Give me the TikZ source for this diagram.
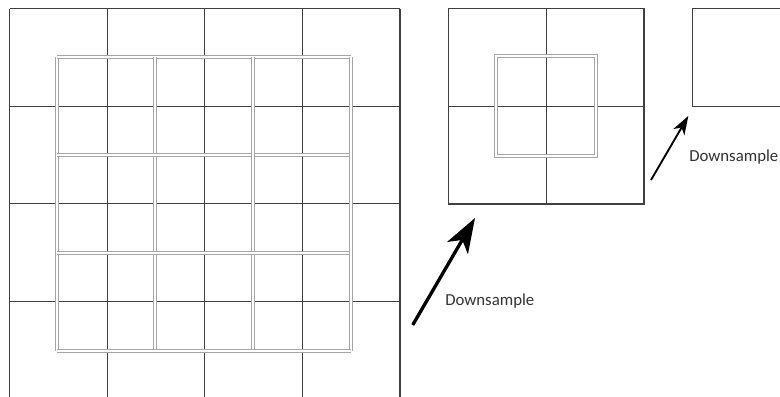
\documentclass[tikz,border=0pt]{standalone}
\usepackage{fontspec}
\setmainfont{Carlito}
\usetikzlibrary{arrows.meta, positioning}

\begin{document}
\begin{tikzpicture}[
  x=0.75pt, y=-0.75pt,
  every node/.style={font=\fontsize{12.6}{15}\selectfont, text=black!80, inner sep=0pt},
  cellline/.style={draw=black!75, line width=0.9pt},
  poolline/.style={draw=gray!70, double=white, double distance=1pt, line width=0.95pt},
  arr/.style={-{Stealth[length=26pt, width=18pt, inset=7pt]}, line width=2.5pt, black},
  sarr/.style={-{Stealth[length=14pt, width=9.5pt, inset=4pt]}, line width=1.4pt, black}
]
\useasboundingbox (0,0) rectangle (780,396);
\clip (0,0) rectangle (780,396);

% input map
\foreach \k in {0,...,4}
  \draw[cellline] (9.5+97.6*\k,8.5) -- (9.5+97.6*\k,400);
\foreach \k in {0,...,3}
  \draw[cellline] (9.5,8.5+97.6*\k) -- (399.9,8.5+97.6*\k);
\foreach \k in {0,...,3} {
  \draw[poolline] (57+98*\k,57) -- (57+98*\k,351);
  \draw[poolline] (57,57+98*\k) -- (351,57+98*\k);
}

% first downsampled map
\draw[cellline] (448.5,8.5) rectangle (644,204);
\draw[cellline] (546.2,8.5) -- (546.2,204);
\draw[cellline] (448.5,106.2) -- (644,106.2);
\draw[poolline] (496,56) rectangle (596,156);

% second downsampled map
\draw[cellline] (692.5,8.5) rectangle (820,106.2);

% arrows
\coordinate (dsAfrom) at (412.7,325);
\coordinate (dsAto)   at (475,218);
\coordinate (dsBfrom) at (651,180);
\coordinate (dsBto)   at (688.3,116);
\draw[arr]  (dsAfrom) -- (dsAto);
\draw[sarr] (dsBfrom) -- (dsBto);

\node[anchor=base west] (dsAlbl) at (445,305.5) {Downsample};
\node[anchor=base west] (dsBlbl) at (689,161)   {Downsample};
\end{tikzpicture}
\end{document}
